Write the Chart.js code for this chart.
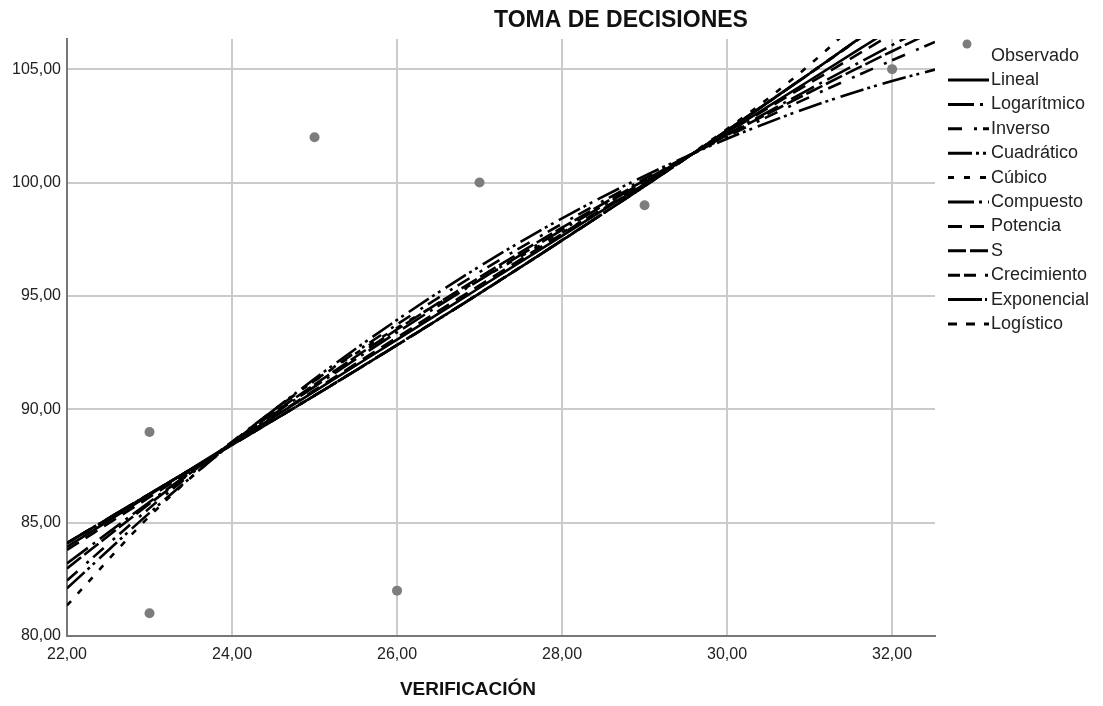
<!DOCTYPE html>
<html>
<head>
<meta charset="utf-8">
<script src="https://cdn.jsdelivr.net/npm/chart.js@4.4.1/dist/chart.umd.min.js"></script>
<style>
  html, body { margin: 0; padding: 0; background: #fff; }
  #wrap { width: 1103px; height: 706px; }
</style>
</head>
<body>
<div id="wrap"><canvas id="c" width="1103" height="706"></canvas></div>
<script>
// axis ticks
const xTicks = [22, 24, 26, 28, 30, 32];
const yTicks = [80, 85, 90, 95, 100, 105];

// observed points
const obsX = [23, 23, 25, 26, 27, 29, 32];
const obsY = [89, 81, 102, 82, 100, 99, 105];

// fitted curves at these x positions
const fitX = [22, 23, 24, 25, 26, 27, 28, 29, 30, 31, 32, 32.52];
const lineal      = [83.93, 86.22, 88.50, 90.79, 93.07, 95.36, 97.65, 99.93, 102.22, 104.50, 106.79, 107.98];
const logaritmico = [83.20, 85.91, 88.51, 91.00, 93.39, 95.70, 97.91, 100.05, 102.12, 104.12, 106.06, 107.04];
const inverso     = [82.45, 85.64, 88.57, 91.26, 93.74, 96.05, 98.18, 100.17, 102.03, 103.77, 105.39, 106.20];
const cuadratico  = [82.10, 85.43, 88.50, 91.34, 93.94, 96.30, 98.42, 100.29, 101.93, 103.32, 104.48, 104.98];
const cubico      = [81.35, 85.28, 88.53, 91.25, 93.59, 95.71, 97.78, 99.94, 102.36, 105.19, 108.60, 110.64];
const compuesto   = [84.10, 86.27, 88.43, 90.60, 92.83, 95.11, 97.45, 99.84, 102.30, 104.81, 107.39, 108.75];
const potencia    = [83.80, 86.12, 88.48, 90.84, 93.17, 95.47, 97.74, 99.98, 102.20, 104.38, 106.55, 107.66];
const sCurva      = [82.98, 85.83, 88.53, 91.09, 93.52, 95.82, 98.01, 100.10, 102.09, 103.98, 105.79, 106.70];
const crecimiento = [84.10, 86.27, 88.43, 90.60, 92.83, 95.11, 97.45, 99.84, 102.30, 104.81, 107.39, 108.75];
const exponencial = [84.10, 86.27, 88.43, 90.60, 92.83, 95.11, 97.45, 99.84, 102.30, 104.81, 107.39, 108.75];
const logistico   = [84.08, 86.26, 88.43, 90.61, 92.84, 95.12, 97.46, 99.85, 102.30, 104.80, 107.36, 108.70];

const curveNames = ['Lineal', 'Logarítmico', 'Inverso', 'Cuadrático', 'Cúbico', 'Compuesto',
  'Potencia', 'S', 'Crecimiento', 'Exponencial', 'Logístico'];
const curveValues = [lineal, logaritmico, inverso, cuadratico, cubico, compuesto,
  potencia, sCurva, crecimiento, exponencial, logistico];
const curveDash = [
  [], [26, 6, 3, 6], [14, 12, 3, 6], [24, 4, 3, 4, 3, 6], [6, 10], [26, 5, 3, 6],
  [14, 8], [18, 4], [12, 4, 12, 9, 3, 10], [34, 3, 2, 6], [9, 9],
];

const FONT = "'Liberation Sans', Arial, sans-serif";
const fmt = v => v.toFixed(2).replace('.', ',');

const datasets = curveNames.map((name, i) => ({
  type: 'line',
  label: name,
  data: fitX.map((x, j) => ({ x, y: curveValues[i][j] })),
  borderColor: '#000',
  borderWidth: 2.6,
  borderDash: curveDash[i],
  cubicInterpolationMode: 'monotone',
  pointRadius: 0,
  fill: false,
}));
datasets.push({
  type: 'scatter',
  label: 'Observado',
  data: obsX.map((x, i) => ({ x, y: obsY[i] })),
  backgroundColor: '#7d7d7d',
  borderWidth: 0,
  pointRadius: 5,
});

// title, axis title and the legend are drawn by hand
const decorations = {
  id: 'decorations',
  afterDraw(chart) {
    const ctx = chart.ctx;
    ctx.save();
    ctx.fillStyle = '#111';
    ctx.textAlign = 'center';
    ctx.textBaseline = 'middle';
    ctx.font = 'bold 23px ' + FONT;
    ctx.fillText('TOMA DE DECISIONES', 621, 21);
    ctx.font = 'bold 19px ' + FONT;
    ctx.fillText('VERIFICACIÓN', 468, 690);

    // legend
    ctx.textAlign = 'left';
    ctx.font = '18px ' + FONT;
    ctx.fillStyle = '#7d7d7d';
    ctx.beginPath();
    ctx.arc(967, 44, 4.5, 0, Math.PI * 2);
    ctx.fill();
    ctx.fillStyle = '#222';
    ctx.fillText('Observado', 991, 56);
    curveNames.forEach((name, i) => {
      const y = 80 + i * 24.4;
      ctx.strokeStyle = '#000';
      ctx.lineWidth = 3;
      ctx.setLineDash(curveDash[i]);
      ctx.beginPath();
      ctx.moveTo(948, y);
      ctx.lineTo(989, y);
      ctx.stroke();
      ctx.setLineDash([]);
      ctx.fillText(name, 991, y);
    });
    ctx.restore();
  }
};

new Chart(document.getElementById('c'), {
  data: { datasets },
  options: {
    responsive: false,
    animation: false,
    layout: { padding: { left: 0, right: 168, top: 39, bottom: 0 } },
    plugins: { legend: { display: false }, tooltip: { enabled: false } },
    scales: {
      x: {
        type: 'linear',
        min: 22, max: 32.52,
        afterBuildTicks: s => { s.ticks = xTicks.map(v => ({ value: v })); },
        afterFit: s => { s.height = 70; },
        grid: { color: '#cbcbcb', lineWidth: 2, drawTicks: false },
        border: { color: '#777', width: 2 },
        ticks: { padding: 9, color: '#222', font: { family: FONT, size: 16 }, callback: v => fmt(v), maxRotation: 0 },
      },
      y: {
        type: 'linear',
        min: 80, max: 106.33,
        afterBuildTicks: s => { s.ticks = yTicks.map(v => ({ value: v })); },
        afterFit: s => { s.width = 67; },
        grid: { color: '#cbcbcb', lineWidth: 2, drawTicks: false },
        border: { color: '#777', width: 2 },
        ticks: { padding: 6, color: '#222', font: { family: FONT, size: 16 }, callback: v => fmt(v) },
      },
    },
  },
  plugins: [decorations],
});
</script>
</body>
</html>
